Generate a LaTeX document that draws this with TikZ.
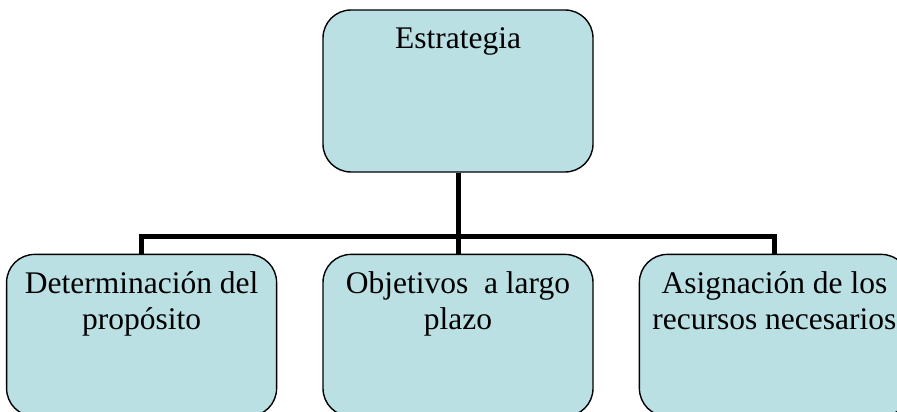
\documentclass[tikz,border=0pt]{standalone}
\usepackage{fontspec}
\setmainfont{Liberation Serif}
\usepackage{tikz}
\usetikzlibrary{positioning}
\definecolor{celeste}{RGB}{186,224,228}
\newcommand{\textocaja}[1]{\parbox[c][154pt][t]{262pt}{\centering\fontsize{31.5}{36}\selectfont\rule{0pt}{35pt}#1}}
\tikzstyle{caja} = [draw=black, fill=celeste, line width=1.4pt, rectangle, rounded corners=28pt, inner sep=4pt, minimum width=270pt, minimum height=162pt]
\tikzstyle{conector} = [draw=black, line width=5pt]

\begin{document}
\begin{tikzpicture}[x=1pt,y=1pt]
		\clip (0,0) rectangle (897,-412);
		\node [caja] (estrategia) at (458,-91) {\textocaja{Estrategia}};
		\node [caja, below=81pt of estrategia] (objetivos) {\textocaja{Objetivos\ \ a largo\\plazo}};
		\node [caja, left=45pt of objetivos] (proposito) {\textocaja{Determinación del\\propósito}};
		\node [caja, right=45pt of objetivos] (recursos) {\textocaja{Asignación de los\\recursos necesarios}};
		\coordinate (bus) at ([yshift=-64pt]estrategia.south);
		\draw [conector] (estrategia.south) -- (objetivos.north);
		\draw [conector] (proposito.north) |- (bus) -| (recursos.north);
	\end{tikzpicture}
\end{document}
